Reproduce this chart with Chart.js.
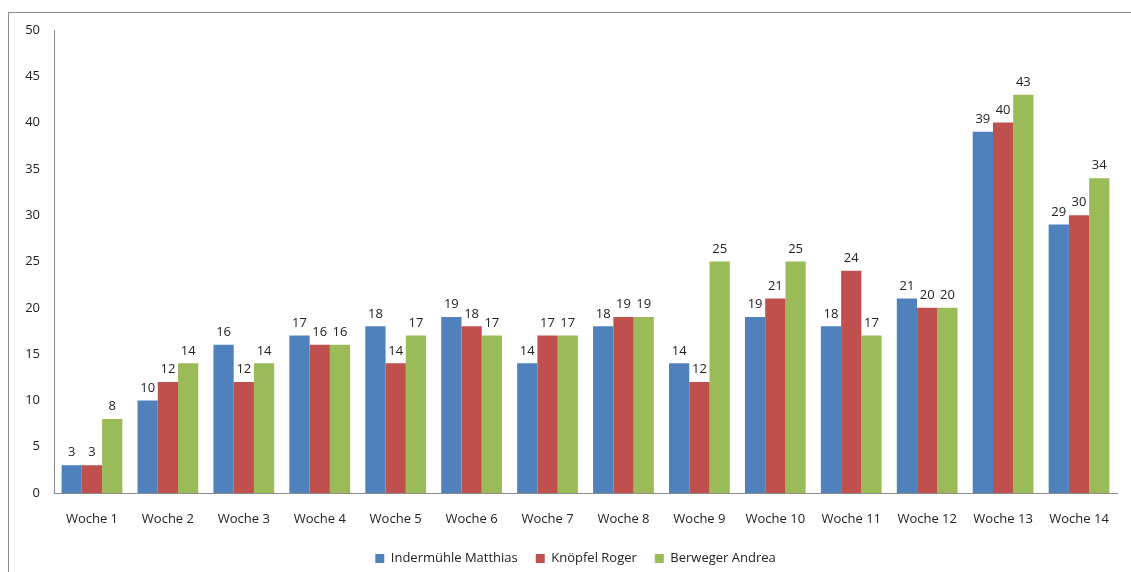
<!DOCTYPE html>
<html>
<head>
<meta charset="utf-8">
<script src="https://cdn.jsdelivr.net/npm/chart.js@4/dist/chart.umd.min.js"></script>
<style>
  html, body { margin: 0; padding: 0; background: #fff; }
  #wrap { position: relative; width: 1131px; height: 572px; }
  #frame { position: absolute; left: 8px; top: 12px; width: 1200px; height: 600px;
           border-top: 1px solid #8c8c8c; border-left: 1px solid #8c8c8c; }
  canvas { position: absolute; left: 0; top: 0; }
</style>
</head>
<body>
<div id="wrap">
  <div id="frame"></div>
  <canvas id="wochenChart" width="1131" height="572"></canvas>
</div>
<script>
// Punkte pro Woche
const wochen = ['Woche 1', 'Woche 2', 'Woche 3', 'Woche 4', 'Woche 5', 'Woche 6', 'Woche 7',
                'Woche 8', 'Woche 9', 'Woche 10', 'Woche 11', 'Woche 12', 'Woche 13', 'Woche 14'];
const indermuehle = [3, 10, 16, 17, 18, 19, 14, 18, 14, 19, 18, 21, 39, 29];
const knoepfel    = [3, 12, 12, 16, 14, 18, 17, 19, 12, 21, 24, 20, 40, 30];
const berweger    = [8, 14, 14, 16, 17, 17, 17, 19, 25, 25, 17, 20, 43, 34];
const yTicks = [0, 5, 10, 15, 20, 25, 30, 35, 40, 45, 50];

const schrift = "'Open Sans', 'Liberation Sans', sans-serif";

// Werte über den Balken anzeigen
const wertLabels = {
    id: 'wertLabels',
    afterDatasetsDraw(chart) {
        const ctx = chart.ctx;
        ctx.save();
        ctx.font = '13px ' + schrift;
        ctx.fillStyle = '#222';
        ctx.textAlign = 'center';
        ctx.textBaseline = 'bottom';
        chart.data.datasets.forEach((ds, i) => {
            chart.getDatasetMeta(i).data.forEach((bar, j) => {
                ctx.fillText(ds.data[j], bar.x, bar.y - 6);
            });
        });
        ctx.restore();
    }
};

// Legende unter der Plotfläche zentrieren und etwas tiefer setzen
const legendeVersatz = {
    id: 'legendeVersatz',
    afterLayout(chart) {
        const lg = chart.legend;
        if (lg) {
            lg.left += 17; lg.right += 17;
            lg.top += 3; lg.bottom += 3;
        }
    }
};

const ctx = document.getElementById('wochenChart').getContext('2d');
new Chart(ctx, {
    type: 'bar',
    data: {
        labels: wochen,
        datasets: [
            { label: 'Indermühle Matthias', data: indermuehle, backgroundColor: '#4F81BD' },
            { label: 'Knöpfel Roger', data: knoepfel, backgroundColor: '#C0504D' },
            { label: 'Berweger Andrea', data: berweger, backgroundColor: '#9BBB59' }
        ]
    },
    options: {
        responsive: false,
        animation: false,
        datasets: { bar: { categoryPercentage: 0.8, barPercentage: 1.0 } },
        layout: { padding: { left: 0, right: 14, top: 30, bottom: 0 } },
        scales: {
            x: {
                grid: { display: false, drawTicks: false },
                border: { color: '#8c8c8c' },
                ticks: { color: '#222', font: { family: schrift, size: 13 }, padding: 18 },
                afterFit(scale) { scale.height = 38; }
            },
            y: {
                min: 0, max: 50,
                afterBuildTicks(scale) { scale.ticks = yTicks.map(v => ({ value: v })); },
                grid: { display: false, drawTicks: false },
                border: { color: '#8c8c8c' },
                ticks: { color: '#222', font: { family: schrift, size: 13 }, padding: 14 },
                afterFit(scale) { scale.width = 54; }
            }
        },
        plugins: {
            legend: {
                position: 'bottom',
                labels: {
                    boxWidth: 9, boxHeight: 9, padding: 18,
                    color: '#222', font: { family: schrift, size: 13 }
                }
            },
            tooltip: { enabled: false }
        }
    },
    plugins: [wertLabels, legendeVersatz]
});
</script>
</body>
</html>
